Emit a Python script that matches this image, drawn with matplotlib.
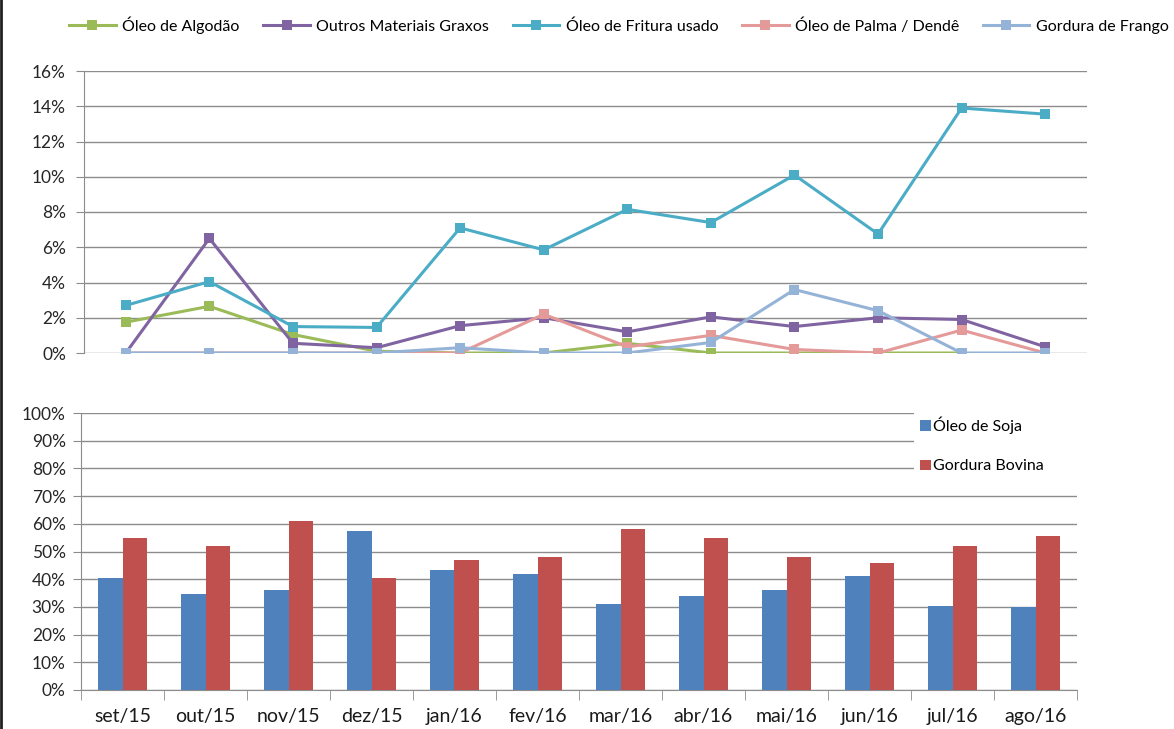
import numpy as np
import matplotlib
matplotlib.use('Agg')
import matplotlib.pyplot as plt
from matplotlib.ticker import FuncFormatter, MultipleLocator, FixedLocator

plt.rcParams['font.family'] = ['Lato', 'DejaVu Sans']

# months
meses = ['set/15', 'out/15', 'nov/15', 'dez/15', 'jan/16', 'fev/16',
         'mar/16', 'abr/16', 'mai/16', 'jun/16', 'jul/16', 'ago/16']

# top chart, share in %
algodao = [1.75, 2.65, 1.05, 0.1, 0.0, 0.0, 0.55, 0.0, 0.0, 0.0, 0.0, np.nan]
outros = [0.0, 6.5, 0.55, 0.3, 1.55, 2.0, 1.2, 2.05, 1.5, 2.0, 1.9, 0.35]
fritura = [2.7, 4.05, 1.5, 1.45, 7.1, 5.85, 8.15, 7.4, 10.1, 6.75, 13.9, 13.55]
palma = [0.0, 0.0, 0.0, 0.0, 0.0, 2.2, 0.35, 1.0, 0.2, 0.0, 1.3, 0.0]
frango = [0.0, 0.0, 0.0, 0.0, 0.3, 0.0, 0.0, 0.6, 3.6, 2.4, 0.0, 0.0]

# bottom chart, share in %
soja = [40.5, 34.5, 36.0, 57.5, 43.5, 42.0, 31.0, 34.0, 36.0, 41.0, 30.5, 30.0]
bovina = [55.0, 52.0, 61.0, 40.5, 47.0, 48.0, 58.0, 55.0, 48.0, 46.0, 52.0, 55.5]

series_top = [
    ('Óleo de Algodão', algodao, '#9BBB59'),
    ('Outros Materiais Graxos', outros, '#8064A2'),
    ('Óleo de Fritura usado', fritura, '#4BACC6'),
    ('Óleo de Palma / Dendê', palma, '#E39A99'),
    ('Gordura de Frango', frango, '#95B3D7'),
]

W, H = 1174, 729
fig = plt.figure(figsize=(W / 100, H / 100), dpi=100)
grid_c = '#8C8C8C'
pct = FuncFormatter(lambda v, p: f'{v:.0f}%')
x = np.arange(len(meses))

# ---- top line chart
ax1 = fig.add_axes([84 / W, 1 - 353 / H, (1087 - 84) / W, (353 - 71) / H])
for nome, vals, cor in series_top:
    ax1.plot(x, np.array(vals, dtype=float), color=cor, lw=2.2, marker='s',
             markersize=7, markeredgewidth=0, label=nome, zorder=3)
ax1.set_xlim(-0.5, 11.5)
ax1.set_ylim(0, 16)
ax1.yaxis.set_major_locator(MultipleLocator(2))
ax1.yaxis.set_major_formatter(pct)
ax1.grid(axis='y', color=grid_c, lw=1)
ax1.set_axisbelow(True)
ax1.set_xticks([])
for s in ['top', 'right', 'bottom']:
    ax1.spines[s].set_visible(False)
ax1.spines['left'].set_color(grid_c)
ax1.tick_params(axis='y', length=6, color=grid_c, labelsize=12.5,
                labelcolor='#262626', pad=7)
fig.legend(loc='center', bbox_to_anchor=(619 / W, 1 - 25 / H), ncol=5,
           frameon=False, fontsize=11.5, handlelength=2.9, handletextpad=0.4,
           columnspacing=1.5)

# ---- bottom bar chart
ax2 = fig.add_axes([81 / W, 1 - 690 / H, (1077 - 81) / W, (690 - 413) / H])
bw = 0.29
ax2.bar(x - bw / 2, soja, bw, color='#4F81BD', label='Óleo de Soja', zorder=3)
ax2.bar(x + bw / 2, bovina, bw, color='#C0504D', label='Gordura Bovina', zorder=3)
ax2.set_xlim(-0.5, 11.5)
ax2.set_ylim(0, 100)
ax2.yaxis.set_major_locator(MultipleLocator(10))
ax2.yaxis.set_major_formatter(pct)
ax2.grid(axis='y', color=grid_c, lw=1)
ax2.set_axisbelow(True)
ax2.set_xticks(x)
ax2.set_xticklabels(meses)
ax2.xaxis.set_minor_locator(FixedLocator(np.arange(-0.5, 12, 1)))
ax2.tick_params(axis='x', which='major', length=0, labelsize=14,
                labelcolor='#1a1a1a', pad=13)
ax2.tick_params(axis='x', which='minor', length=7, color=grid_c)
ax2.tick_params(axis='y', length=6, color=grid_c, labelsize=12.5,
                labelcolor='#262626', pad=5)
for s in ['top', 'right']:
    ax2.spines[s].set_visible(False)
ax2.spines['left'].set_color(grid_c)
ax2.spines['bottom'].set_color(grid_c)
leg = ax2.legend(loc='upper left',
                 bbox_to_anchor=(914 / W, 1 - 486 / H, (1080 - 914) / W, 76 / H),
                 bbox_transform=fig.transFigure, mode='expand', fontsize=11.5,
                 handlelength=0.65, handleheight=0.65, handletextpad=0.15,
                 labelspacing=1.6, borderpad=0.4, borderaxespad=0,
                 fancybox=False, framealpha=1, facecolor='white',
                 edgecolor='none')
leg.set_zorder(5)

# left border like the screenshot
fig.add_artist(plt.Line2D([1.2 / W, 1.2 / W], [0, 1], color='#222222', lw=2,
                          transform=fig.transFigure))

fig.savefig('out.png', dpi=100)
